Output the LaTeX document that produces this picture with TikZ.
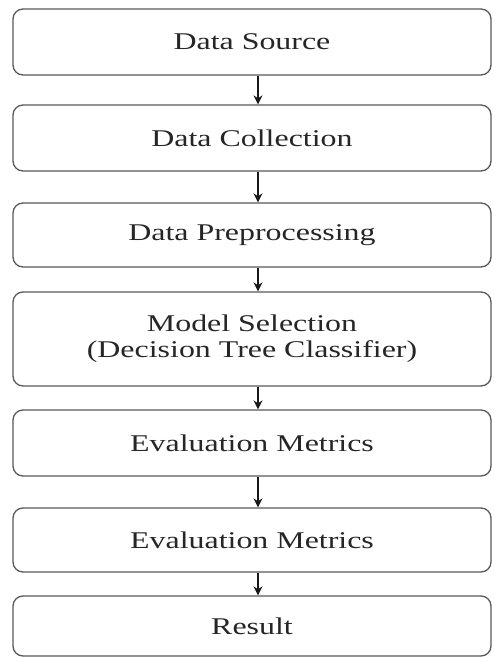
\documentclass[tikz,border=0pt]{standalone}
\usepackage{fontspec}
\setmainfont{Liberation Serif}[FakeStretch=1.33]
\usetikzlibrary{positioning,arrows.meta}

\begin{document}
\begin{tikzpicture}[x=1pt, y=-1pt, >={Stealth[length=9pt,width=9pt]},
  stage/.style={draw=black!65, line width=1.3pt, rounded corners=10pt, fill=white,
    minimum width=478pt, inner sep=0pt, align=center, text=black!85,
    font=\fontsize{24}{26}\selectfont},
  flow/.style={->, line width=1.2pt, draw=black!90}]
\useasboundingbox (0,0) rectangle (493,658);

% stages
\node[stage, minimum height=66pt] (src) at (252,42) {Data Source};
\node[stage, minimum height=66pt] (col) at (252,138) {Data Collection};
\node[stage, minimum height=64pt] (pre) at (252,235) {Data Preprocessing};
\node[stage, minimum height=94pt] (sel) at (252,339) {Model Selection\\(Decision Tree Classifier)};
\node[stage, minimum height=66pt] (ev1) at (252,443) {Evaluation Metrics};
\node[stage, minimum height=64pt] (ev2) at (252,540) {Evaluation Metrics};
\node[stage, minimum height=60pt] (res) at (252,626) {Result};

% arrows
\draw[flow] ([xshift=6pt]src.south) -- ([xshift=6pt]col.north);
\draw[flow] ([xshift=6pt]col.south) -- ([xshift=6pt]pre.north);
\draw[flow] ([xshift=6pt]pre.south) -- ([xshift=6pt]sel.north);
\draw[flow] ([xshift=6pt]sel.south) -- ([xshift=6pt]ev1.north);
\draw[flow] ([xshift=6pt]ev1.south) -- ([xshift=6pt]ev2.north);
\draw[flow] ([xshift=6pt]ev2.south) -- ([xshift=6pt]res.north);
\end{tikzpicture}
\end{document}
